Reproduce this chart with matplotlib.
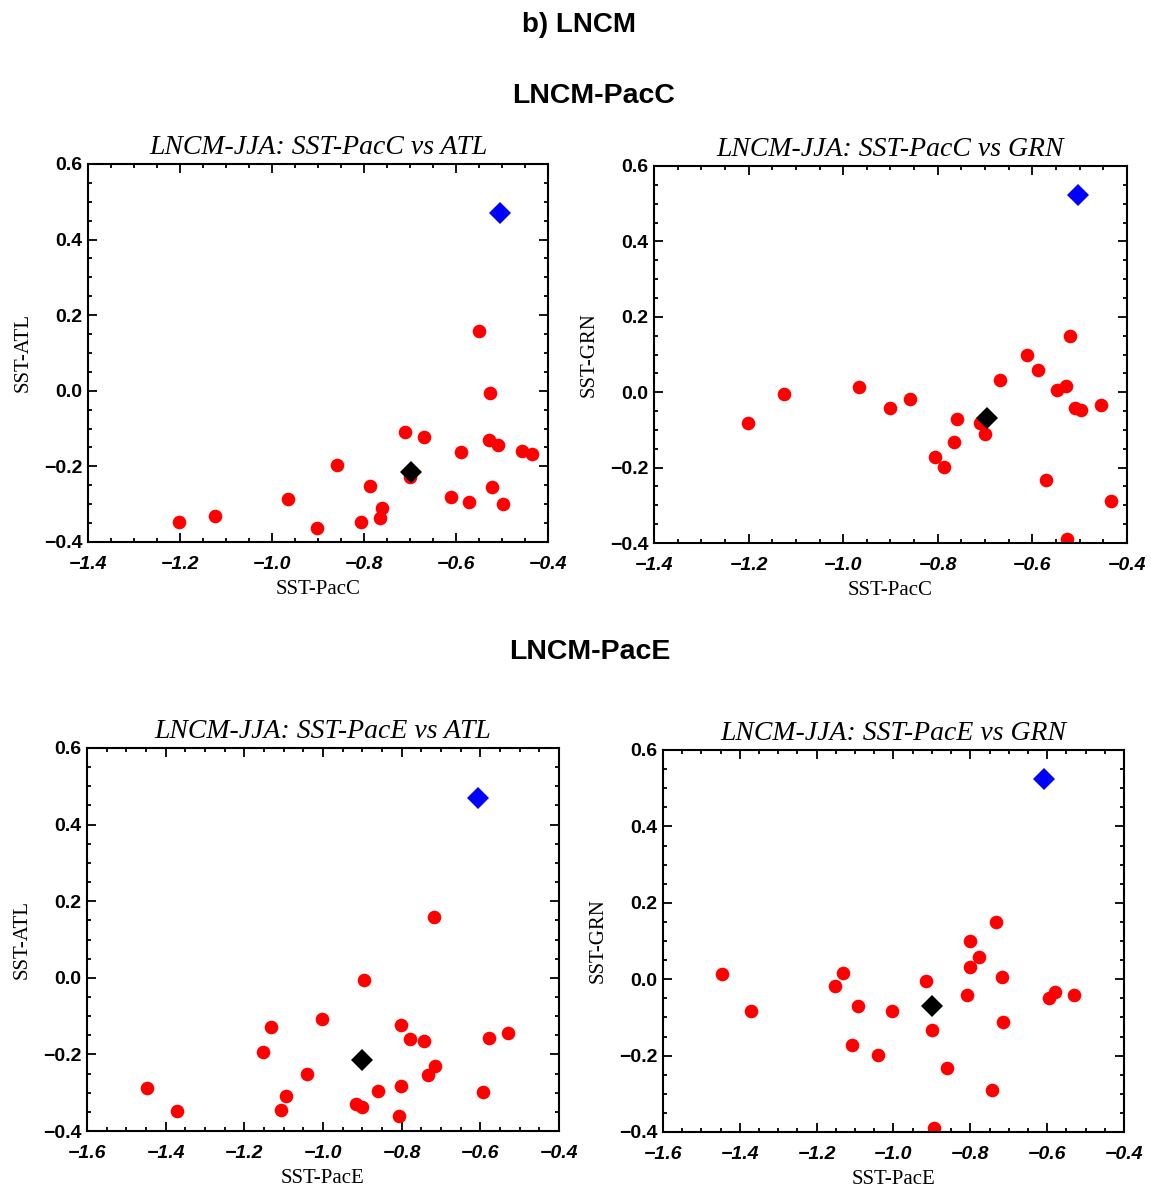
import numpy as np
import matplotlib.pyplot as plt
from matplotlib.ticker import MultipleLocator, FuncFormatter

# 23 model members: central/east Pacific SST vs Atlantic / Greenland SST
pacc = [-1.202, -1.125, -0.966, -0.902, -0.858, -0.806, -0.787, -0.765, -0.760, -0.711, -0.700, -0.669,
        -0.611, -0.589, -0.572, -0.549, -0.528, -0.527, -0.521, -0.509, -0.497, -0.456, -0.434]
pace = [-1.371, -0.916, -1.447, -0.808, -1.152, -1.107, -1.040, -0.901, -1.093, -1.003, -0.714, -0.802,
        -0.801, -0.778, -0.860, -0.717, -1.132, -0.895, -0.733, -0.530, -0.594, -0.579, -0.744]
atl = [-0.347, -0.330, -0.287, -0.362, -0.195, -0.346, -0.252, -0.337, -0.309, -0.108, -0.229, -0.123,
       -0.282, -0.161, -0.295, 0.158, -0.129, -0.005, -0.254, -0.143, -0.299, -0.158, -0.166]
grn = [-0.083, -0.006, 0.014, -0.042, -0.018, -0.172, -0.198, -0.133, -0.070, -0.083, -0.112, 0.032,
       0.099, 0.058, -0.232, 0.007, 0.016, -0.390, 0.149, -0.042, -0.048, -0.033, -0.289]

# ensemble mean (black) and observations (blue)
mean_pt = {"pacc": -0.697, "pace": -0.900, "atl": -0.215, "grn": -0.069}
obs_pt = {"pacc": -0.504, "pace": -0.607, "atl": 0.470, "grn": 0.523}

series = {"pacc": pacc, "pace": pace, "atl": atl, "grn": grn}
names = {"pacc": "SST-PacC", "pace": "SST-PacE", "atl": "SST-ATL", "grn": "SST-GRN"}
xlims = {"pacc": (-1.4, -0.4), "pace": (-1.6, -0.4)}

W, H = 1151, 1191
fig = plt.figure(figsize=(W / 100, H / 100), dpi=100)


def box(l, r, t, b):
    return [l / W, 1 - b / H, (r - l) / W, (b - t) / H]


panels = [
    ("pacc", "atl", box(88, 548, 164, 542)),
    ("pacc", "grn", box(654, 1127, 166, 543)),
    ("pace", "atl", box(87, 559, 748, 1131)),
    ("pace", "grn", box(663, 1124, 750, 1132)),
]

serif = "Liberation Serif"
sans = "Liberation Sans"
fmt = FuncFormatter(lambda v, pos: ("%.1f" % v).replace("-", "\u2212"))

for xk, yk, rect in panels:
    ax = fig.add_axes(rect)
    ax.plot(series[xk], series[yk], "o", color="red", ms=9.8, mew=0, ls="none")
    ax.plot(mean_pt[xk], mean_pt[yk], "D", color="black", ms=11, mew=0)
    ax.plot(obs_pt[xk], obs_pt[yk], "D", color="blue", ms=11, mew=0)

    ax.set_xlim(*xlims[xk])
    ax.set_ylim(-0.4, 0.6)
    ax.xaxis.set_major_locator(MultipleLocator(0.2))
    ax.xaxis.set_minor_locator(MultipleLocator(0.05))
    ax.yaxis.set_major_locator(MultipleLocator(0.2))
    ax.yaxis.set_minor_locator(MultipleLocator(0.05))
    ax.xaxis.set_major_formatter(fmt)
    ax.yaxis.set_major_formatter(fmt)
    ax.tick_params(which="both", direction="in", top=True, right=True, width=1.3)
    ax.tick_params(which="major", length=6.5)
    ax.tick_params(which="minor", length=3)
    ax.tick_params(axis="x", pad=10)
    ax.tick_params(axis="y", pad=4)
    for lab in ax.get_xticklabels():
        lab.set_fontfamily(sans)
        lab.set_fontweight("bold")
        lab.set_fontstyle("italic")
        lab.set_fontsize(14)
    for lab in ax.get_yticklabels():
        lab.set_fontfamily(sans)
        lab.set_fontweight("bold")
        lab.set_fontsize(14)
    for sp in ax.spines.values():
        sp.set_linewidth(1.5)

    ax.set_xlabel(names[xk], fontfamily=serif, fontsize=15, labelpad=5)
    ax.set_ylabel(names[yk], fontfamily=serif, fontsize=15, labelpad=8)
    ax.set_title("LNCM-JJA: " + names[xk] + " vs " + names[yk][4:],
                 fontfamily=serif, fontstyle="italic", fontsize=20, pad=7)

fig.text(579 / W, 1 - 25 / H, "b) LNCM", ha="center", va="center",
         fontfamily=sans, fontweight="bold", fontsize=20)
fig.text(594 / W, 1 - 96 / H, "LNCM-PacC", ha="center", va="center",
         fontfamily=sans, fontweight="bold", fontsize=20.5)
fig.text(590 / W, 1 - 652 / H, "LNCM-PacE", ha="center", va="center",
         fontfamily=sans, fontweight="bold", fontsize=20.5)

fig.savefig("out.png", dpi=100)
